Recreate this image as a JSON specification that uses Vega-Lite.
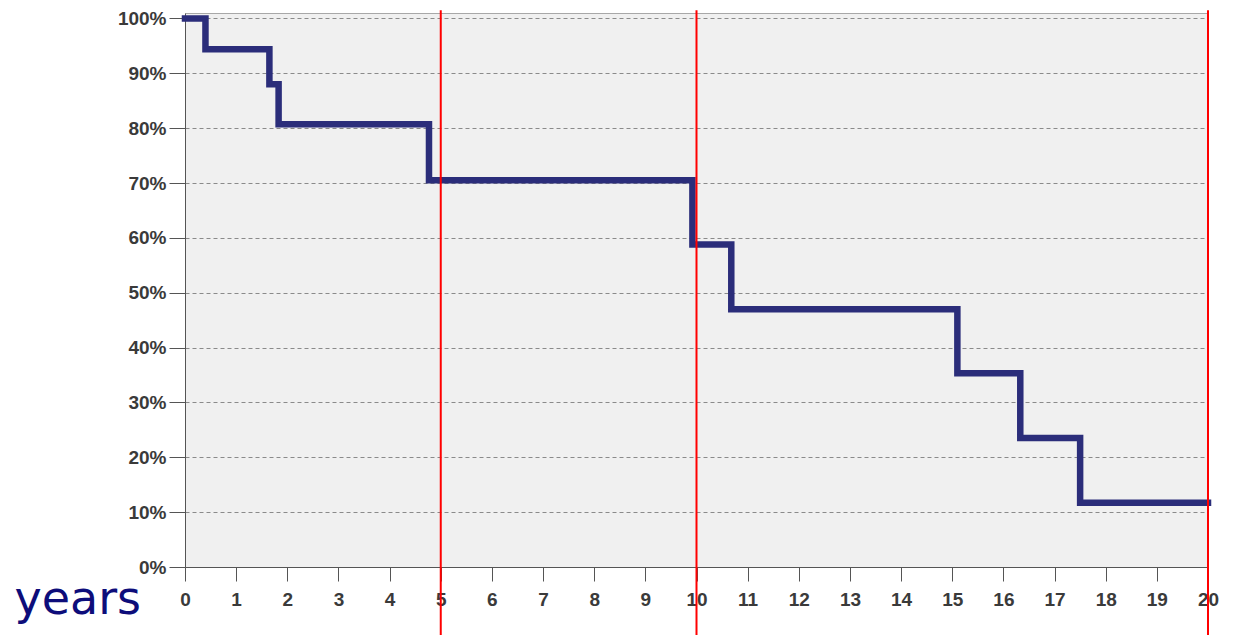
{
  "$schema": "https://vega.github.io/schema/vega-lite/v6.json",
  "width": 1023,
  "height": 554,
  "autosize": {"type": "none"},
  "padding": {"left": 185, "top": 13, "right": 28, "bottom": 68},
  "background": "white",
  "config": {"view": {"fill": "#f0f0f0", "stroke": "#a8a8a8", "strokeWidth": 1}},
  "datasets": {
    "km": [
      {"years": 0, "survival": 100},
      {"years": 0.4, "survival": 94.4},
      {"years": 1.65, "survival": 88.0},
      {"years": 1.83, "survival": 80.7},
      {"years": 4.77, "survival": 70.5},
      {"years": 9.92, "survival": 58.8},
      {"years": 10.68, "survival": 47.0},
      {"years": 15.1, "survival": 35.3},
      {"years": 16.33, "survival": 23.5},
      {"years": 17.5, "survival": 11.7},
      {"years": 20, "survival": 11.7}
    ],
    "marks": [
      {"years": 5},
      {"years": 10},
      {"years": 20}
    ]
  },
  "layer": [
    {
      "data": {"name": "km"},
      "mark": {"type": "line", "interpolate": "step-after", "color": "#2b2d7a", "strokeWidth": 6.5, "strokeCap": "square", "strokeJoin": "miter"},
      "encoding": {
        "x": {
          "field": "years", "type": "quantitative",
          "scale": {"domain": [0, 20], "nice": false, "zero": false},
          "axis": {
            "values": [0,1,2,3,4,5,6,7,8,9,10,11,12,13,14,15,16,17,18,19,20],
            "grid": false,
            "domainColor": "#555555", "tickColor": "#555555",
            "tickSize": 14, "labelPadding": 9,
            "labelFont": "Liberation Sans", "labelFontSize": 19, "labelFontWeight": "bold", "labelColor": "#3a3a3a",
            "labelFlush": false,
            "title": "years",
            "titleX": -171, "titleY": 46,
            "titleAlign": "left", "titleBaseline": "alphabetic", "titleAnchor": "start",
            "titleFont": "DejaVu Sans", "titleFontSize": 46, "titleFontWeight": "normal", "titleColor": "#0d0d7a"
          }
        },
        "y": {
          "field": "survival", "type": "quantitative",
          "scale": {"domain": [0, 101], "nice": false, "zero": false},
          "axis": {
            "values": [0,10,20,30,40,50,60,70,80,90,100],
            "labelExpr": "datum.value + '%'",
            "grid": true, "gridDash": [4, 3], "gridColor": "#8a8a8a", "gridWidth": 1,
            "domainColor": "#555555", "tickColor": "#555555",
            "tickSize": 16, "labelPadding": 3,
            "labelFont": "Liberation Sans", "labelFontSize": 19, "labelFontWeight": "bold", "labelColor": "#3a3a3a",
            "labelFlush": false,
            "title": null
          }
        }
      }
    },
    {
      "data": {"name": "marks"},
      "mark": {"type": "rule", "color": "#ff0000", "strokeWidth": 2, "clip": false},
      "encoding": {
        "x": {"field": "years", "type": "quantitative"},
        "y": {"datum": 101.5, "type": "quantitative"},
        "y2": {"datum": -12.4}
      }
    }
  ]
}
